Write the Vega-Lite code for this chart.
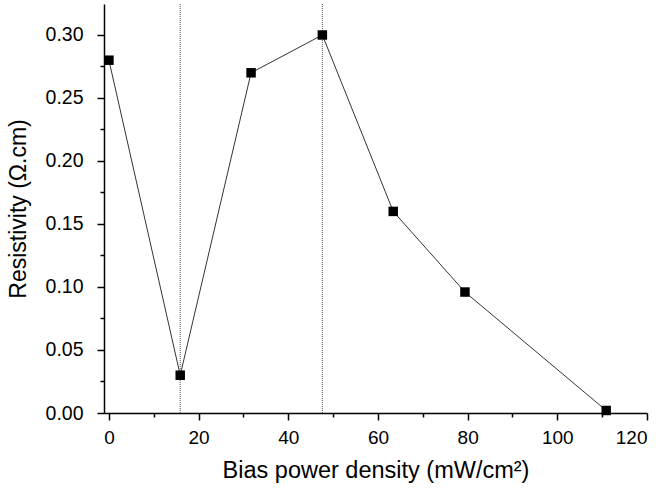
{
  "$schema": "https://vega.github.io/schema/vega-lite/v6.json",
  "width": 543,
  "height": 409,
  "autosize": {"type": "none"},
  "padding": {"left": 104, "top": 4, "right": 18, "bottom": 76},
  "background": "white",
  "config": {
    "view": {"stroke": null},
    "font": "Liberation Sans",
    "axis": {"grid": false, "domainColor": "black", "domainWidth": 1.5, "tickColor": "black", "tickWidth": 1.5, "labelColor": "black", "titleColor": "black", "labelFont": "Liberation Sans", "titleFont": "Liberation Sans", "labelFontSize": 19, "titleFontSize": 23, "titleFontWeight": "normal"}
  },
  "datasets": {
    "pts": [
      {"power": 0, "resistivity": 0.28},
      {"power": 15.9, "resistivity": 0.03},
      {"power": 31.7, "resistivity": 0.27},
      {"power": 47.6, "resistivity": 0.30},
      {"power": 63.4, "resistivity": 0.16},
      {"power": 79.4, "resistivity": 0.096},
      {"power": 110.9, "resistivity": 0.002}
    ],
    "marks": [
      {"power": 15.9},
      {"power": 47.6}
    ]
  },
  "resolve": {"axis": {"x": "independent", "y": "independent"}},
  "layer": [
    {
      "data": {"name": "marks"},
      "mark": {"type": "rule", "color": "#555555", "strokeWidth": 1, "strokeDash": [1, 1]},
      "encoding": {
        "x": {"field": "power", "type": "quantitative", "scale": {"domain": [-1.1, 120], "nice": false, "zero": false},
          "axis": {"orient": "bottom", "values": [10, 30, 50, 70, 90, 110], "labels": false, "domain": false, "tickSize": 4, "title": null}}
      }
    },
    {
      "data": {"name": "pts"},
      "mark": {"type": "line", "color": "black", "strokeWidth": 0.8},
      "encoding": {
        "x": {"field": "power", "type": "quantitative", "scale": {"domain": [-1.1, 120], "nice": false, "zero": false},
          "axis": {"orient": "bottom", "values": [0, 20, 40, 60, 80, 100, 120], "tickSize": 7, "labelFontSize": 19, "labelPadding": 8, "titlePadding": 11, "titleFontSize": 23.5, "title": "Bias power density (mW/cm²)"}},
        "y": {"field": "resistivity", "type": "quantitative", "scale": {"domain": [0, 0.3246], "nice": false, "zero": false},
          "axis": {"orient": "left", "values": [0, 0.05, 0.1, 0.15, 0.2, 0.25, 0.3], "format": ".2f", "tickSize": 7, "labelFontSize": 19.5, "labelPadding": 14, "titlePadding": 15, "titleFontSize": 23, "title": "Resistivity (Ω.cm)"}}
      }
    },
    {
      "data": {"name": "pts"},
      "mark": {"type": "point", "shape": "square", "filled": true, "color": "black", "size": 90, "opacity": 1},
      "encoding": {
        "x": {"field": "power", "type": "quantitative", "scale": {"domain": [-1.1, 120], "nice": false, "zero": false}, "axis": null},
        "y": {"field": "resistivity", "type": "quantitative", "scale": {"domain": [0, 0.3246], "nice": false, "zero": false},
          "axis": {"orient": "left", "values": [0.025, 0.075, 0.125, 0.175, 0.225, 0.275, 0.325], "labels": false, "domain": false, "tickSize": 4, "title": null}}
      }
    }
  ]
}
